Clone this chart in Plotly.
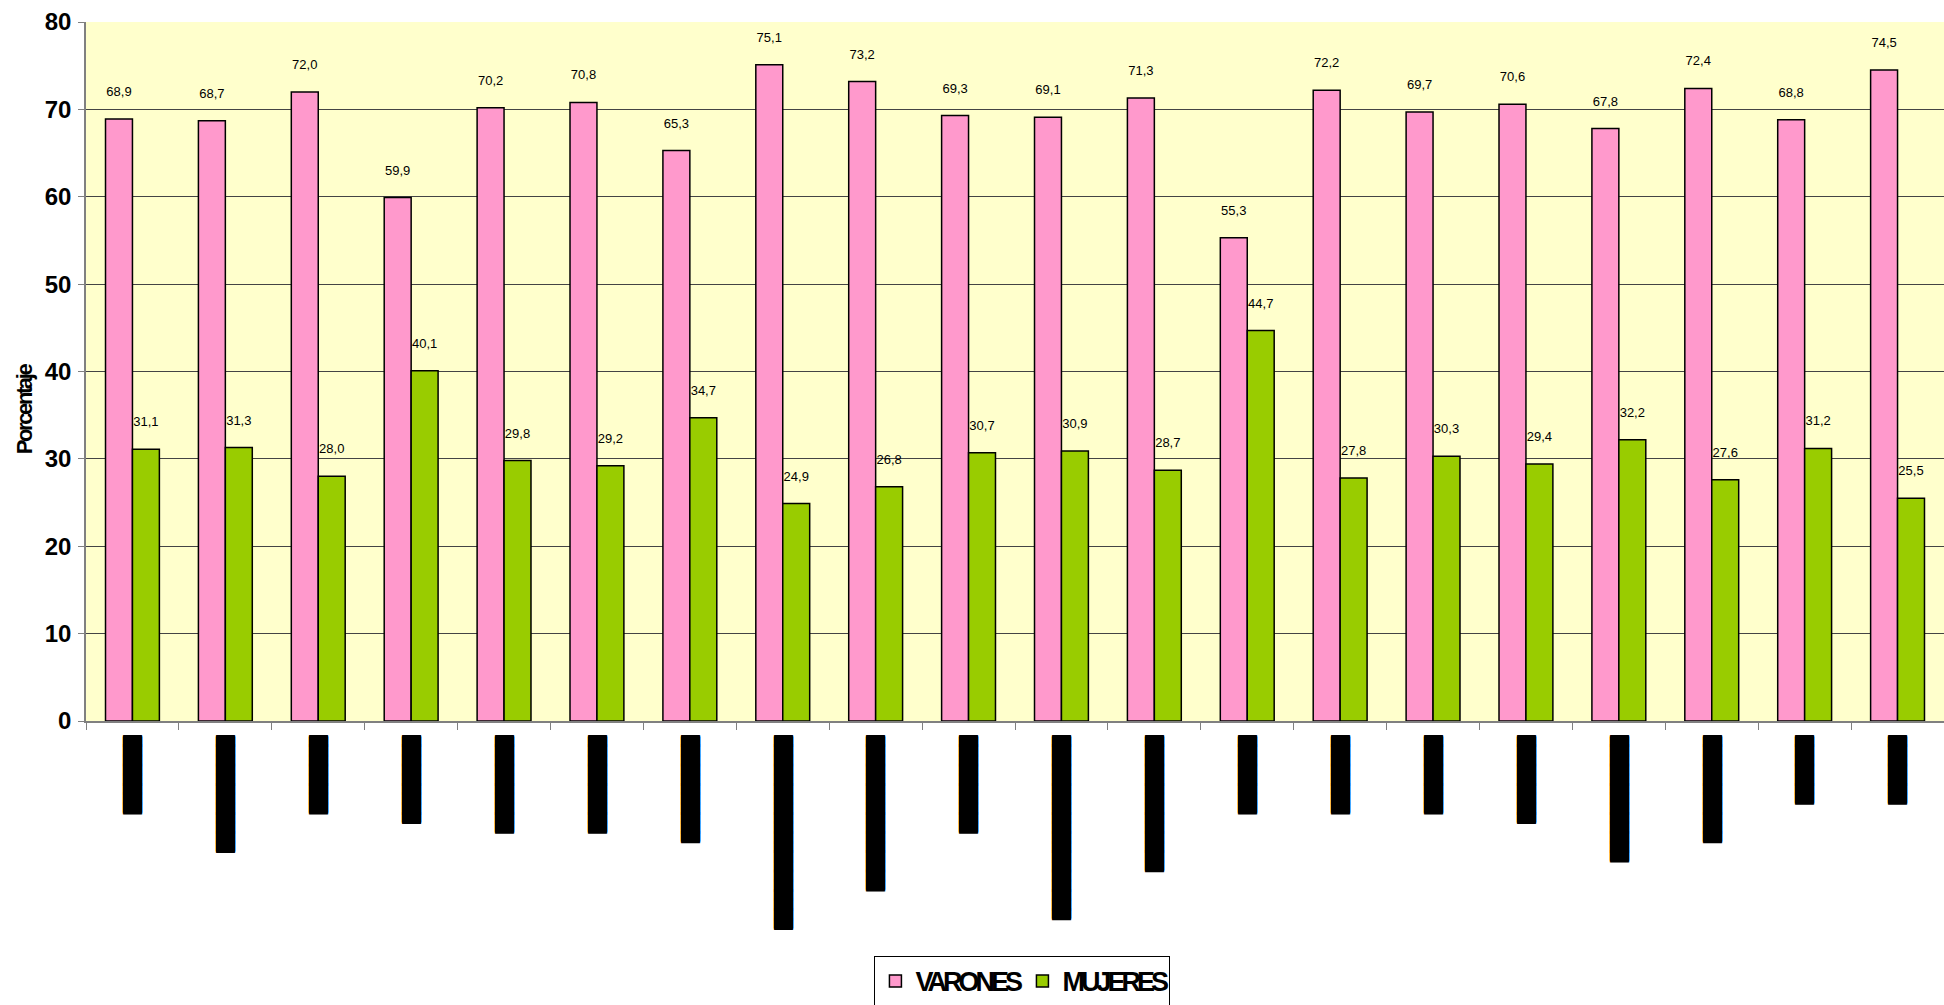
import plotly.graph_objects as go

categorias = [f"c{i}" for i in range(1, 21)]
etiquetas = ["█" * 8, "█" * 12, "█" * 8, "█" * 9, "█" * 10, "█" * 10, "█" * 11, "█" * 20,
             "█" * 16, "█" * 10, "█" * 19, "█" * 14, "█" * 8, "█" * 8, "█" * 8, "█" * 9,
             "█" * 13, "█" * 11, "█" * 7, "█" * 7]
varones = [68.9, 68.7, 72.0, 59.9, 70.2, 70.8, 65.3, 75.1, 73.2, 69.3,
           69.1, 71.3, 55.3, 72.2, 69.7, 70.6, 67.8, 72.4, 68.8, 74.5]
mujeres = [31.1, 31.3, 28.0, 40.1, 29.8, 29.2, 34.7, 24.9, 26.8, 30.7,
           30.9, 28.7, 44.7, 27.8, 30.3, 29.4, 32.2, 27.6, 31.2, 25.5]
series = ["VARONES", "MUJERES"]

def fmt(v):
    return f"{v:.1f}".replace(".", ",") + "<br> "

def tight(s, sp):
    return f'<span style="letter-spacing:{sp}px">{s}</span>'

fig = go.Figure()
for name, vals, color in [(series[0], varones, "#FF99CC"), (series[1], mujeres, "#99CC00")]:
    fig.add_trace(go.Bar(
        x=categorias, y=vals, name=tight(name, -4),
        marker=dict(color=color, line=dict(color="black", width=1.5)),
        text=[fmt(v) for v in vals], textposition="outside",
        textfont=dict(family="Liberation Sans", size=13, color="black"),
        constraintext="none", cliponaxis=False,
    ))

fig.update_layout(
    width=1944, height=1005,
    margin=dict(l=86, r=0, t=22, b=284, autoexpand=False),
    paper_bgcolor="white", plot_bgcolor="#FFFFCC",
    barmode="group", bargap=0.42, bargroupgap=0,
    showlegend=True,
    legend=dict(orientation="h", x=0.504, xanchor="center", y=-0.336, yanchor="top",
                bordercolor="black", borderwidth=1, bgcolor="white",
                font=dict(family="Liberation Sans", size=27, color="black", weight="bold"),
                itemwidth=30, tracegroupgap=0, entrywidth=102),
    font=dict(family="Liberation Sans", color="black"),
)
fig.add_annotation(
    text=tight("Porcentaje", -2.4), xref="paper", yref="paper", x=0, y=0.446,
    xanchor="center", yanchor="middle", xshift=-62, textangle=-90, showarrow=False,
    font=dict(family="Liberation Sans", size=22, color="black", weight="bold"),
)
fig.update_yaxes(
    range=[0, 80], dtick=10, tick0=0, automargin=False,
    showgrid=True, gridcolor="#444444", gridwidth=1,
    showline=True, linecolor="#808080", linewidth=1.5,
    ticks="outside", ticklen=6, tickcolor="#808080", ticklabelstandoff=2,
    tickfont=dict(family="Liberation Sans", size=24, color="black", weight="bold"),
    zeroline=False,
)
fig.update_xaxes(
    tickmode="array", tickvals=categorias, ticktext=etiquetas, automargin=False,
    tickangle=90, tickson="boundaries", ticklabelstandoff=10,
    ticks="outside", ticklen=7, tickcolor="#808080",
    showline=True, linecolor="#808080", linewidth=1.5,
    tickfont=dict(family="DejaVu Sans Mono", size=16, color="black",
                  shadow="1px 0px 0px black, -1px 0px 0px black"),
    showgrid=False,
)
fig.write_html("out.html", config={"displayModeBar": False},
               post_script="document.body.style.margin='0';")
